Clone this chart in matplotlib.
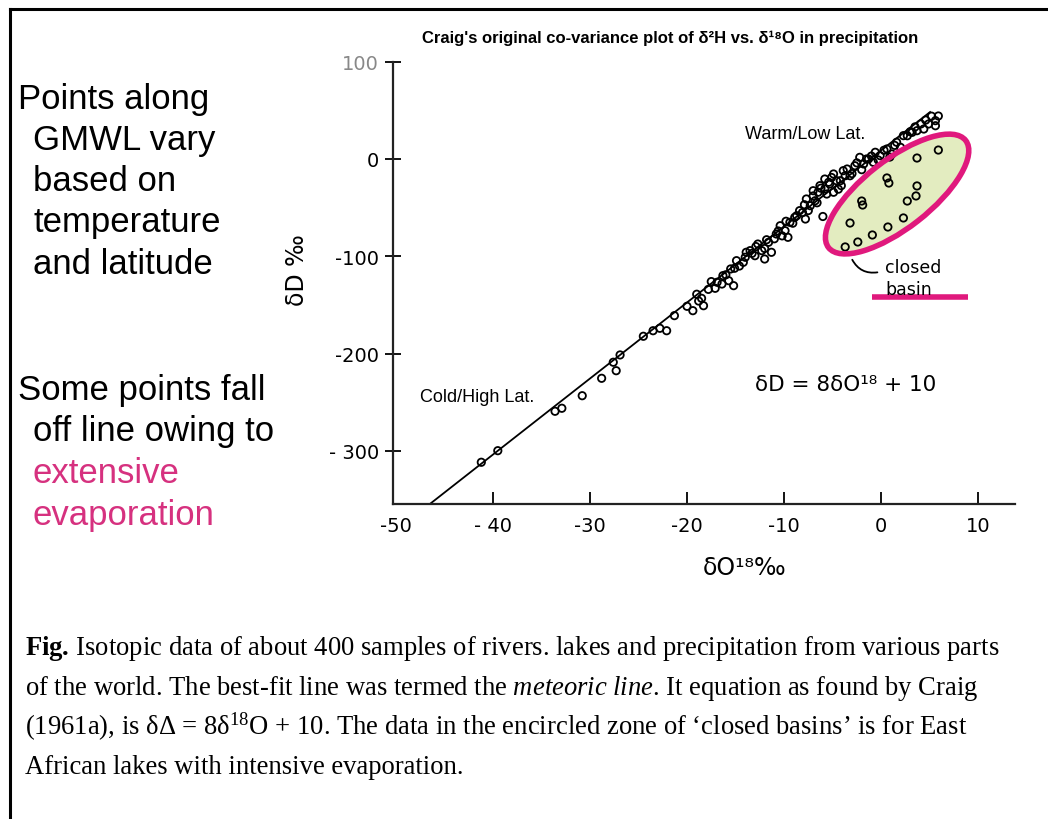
import matplotlib
matplotlib.use('Agg')
import matplotlib.pyplot as plt
from matplotlib.patches import Ellipse
from matplotlib.lines import Line2D
from matplotlib.transforms import IdentityTransform

plt.rcParams['mathtext.fontset'] = 'custom'
plt.rcParams['mathtext.rm'] = 'Liberation Serif'
plt.rcParams['mathtext.it'] = 'Liberation Serif:italic'
plt.rcParams['mathtext.bf'] = 'Liberation Serif:bold'

# samples along the meteoric line (d18O, dD)
meteoric_x = [-41.2, -39.5, -33.6, -32.9, -30.8, -28.8, -27.6, -26.9, -27.3, -24.5,
              -23.5, -22.8, -22.1, -21.3, -20.0, -19.4, -18.3, -18.5, -17.1, -16.4,
              -15.2, -15.7, -15.1, -14.2, -13.9,
              -16.9, -16.3, -14.9, -13.5, -13.0, -12.7, -12.3, -12.0, -11.6, -11.3,
              -10.8, -10.4, -9.9, -9.6, -9.4, -8.7, -8.4, -7.8, -7.7, -7.3,
              -6.8, -6.5, -5.8, -5.4, -4.9, -4.6, -4.1, -3.7,
              -7.0, -6.3, -5.8, -5.3, -4.9, -4.2, -3.5, -3.2, -2.7, -2.2,
              -1.8, -1.3, -0.6, -0.8, -0.1, 0.6, 1.1, 1.6, 2.0, 2.7,
              3.2, 3.7, 4.4, 4.9, 5.6, 5.6, 5.9, -6.0,
              -19.0, -18.8, -17.8, -17.5, -16.0, -15.5, -14.6, -14.0, -13.3, -12.9,
              -12.0, -11.8, -11.0, -10.6, -10.2, -9.8, -9.1, -8.9, -8.1, -7.9,
              -7.5, -7.0, -6.6, -6.2, -5.6, -5.1, -4.4, -3.9, -3.0, -2.5,
              -2.0, -1.5, -1.0, -0.3, 0.3, 0.9, 1.4, 2.3, 3.0, 3.5,
              4.1, 4.6, 5.2]
meteoric_y = [-311.7, -299.8, -259.3, -256.2, -243.3, -225.4, -208.9, -201.4, -217.6, -182.2,
              -176.5, -174.0, -176.5, -161.0, -151.4, -155.9, -150.8, -143.2, -132.9, -128.5,
              -130.2, -125.1, -112.3, -106.2, -95.9,
              -126.7, -119.9, -104.5, -94.2, -99.4, -87.4, -94.2, -102.8, -85.6, -95.9,
              -77.1, -68.6, -73.7, -80.5, -65.1, -58.3, -53.1, -61.7, -41.1, -48.0,
              -42.9, -34.2, -30.8, -23.9, -34.2, -22.3, -27.4, -17.2,
              -32.6, -27.4, -20.6, -25.7, -15.4, -22.3, -10.3, -17.2, -6.9, 1.7,
              -5.1, 0.0, 6.9, -3.4, 3.4, 10.3, 5.1, 17.2, 12.0, 23.9,
              27.4, 29.1, 30.8, 36.0, 39.4, 34.2, 44.2, -59.1,
              -139, -146, -134, -126, -119, -113, -110, -101, -97, -90,
              -92, -83, -82, -74, -79, -64, -66, -60, -55, -47,
              -53, -38, -45, -30, -36, -19, -31, -12, -15, -4,
              -11, 0, 3, -1, 9, 2, 14, 24, 28, 33,
              36, 40, 44]

# East African closed basin lakes
basin_x = [5.9, 3.7, 0.6, 0.8, 3.7, 3.6, 2.7, -1.9, -2.0, -3.2, -3.7, -2.4, -0.9, 0.7, 2.3]
basin_y = [9.2, 1.0, -19.5, -24.7, -27.7, -38.0, -43.2, -47.3, -43.2, -65.8, -90.4, -85.3, -78.1, -69.9, -60.6]

# drawn meteoric line end points
line_x = [-46.5, 5.05]
line_y = [-354.6, 48.3]

xticks = [-50, -40, -30, -20, -10, 0, 10]
xtick_labels = ['-50', '- 40', '-30', '-20', '-10', '0', '10']
yticks = [100, 0, -100, -200, -300]
ytick_labels = ['100', '0', '-100', '-200', '- 300']

MAG = '#e0197d'
PINK = '#d6317f'

W, H = 1048, 820
fig = plt.figure(figsize=(W / 100, H / 100), dpi=100)

ax = fig.add_axes([393 / W, 1 - 505 / H, (1015 - 393) / W, (505 - 62.7) / H])
ax.set_xlim(-50.3, 13.8)
ax.set_ylim(-354.6, 100)
for s in ['top', 'right']:
    ax.spines[s].set_visible(False)
for s in ['left', 'bottom']:
    ax.spines[s].set_linewidth(1.6)
    ax.spines[s].set_color('#222222')

ax.set_xticks(xticks)
ax.set_xticklabels(xtick_labels)
ax.set_yticks(yticks)
ax.set_yticklabels(ytick_labels)
ax.tick_params(axis='x', direction='in', length=9, width=1.3, pad=9, labelsize=14)
ax.tick_params(axis='y', direction='inout', length=12, width=1.3, pad=4, labelsize=14)
ax.xaxis.get_major_ticks()[0].tick1line.set_visible(False)
ax.get_yticklabels()[0].set_color('#888888')

# closed basin ellipse (fill under points, outline above)
cx, cy = ax.transData.transform((1.65, -36.0))
ax.add_patch(Ellipse((cx, cy), 174, 68, angle=38, transform=IdentityTransform(),
                     facecolor='#e3ecc0', edgecolor='none', zorder=1))

ax.plot(line_x, line_y, color='black', lw=1.3, zorder=2)
ax.scatter(meteoric_x, meteoric_y, s=28, facecolors='none', edgecolors='black',
           linewidths=1.3, zorder=3)
ax.scatter(basin_x, basin_y, s=28, facecolors='none', edgecolors='black',
           linewidths=1.3, zorder=3)

ax.add_patch(Ellipse((cx, cy), 174, 68, angle=38, transform=IdentityTransform(),
                     facecolor='none', edgecolor=MAG, lw=4, zorder=4))

ax.text(-14.0, 25.7, 'Warm/Low Lat.', fontsize=13, family='Liberation Sans', va='center')
ax.text(-47.5, -244.6, 'Cold/High Lat.', fontsize=13, family='Liberation Sans', va='center')
ax.text(-13.0, -231.2, 'δD = 8δO¹⁸ + 10', fontsize=15.5, va='center')

ax.annotate('', xy=(-0.1, -116), xytext=(-3.1, -101),
            arrowprops=dict(arrowstyle='-', connectionstyle='arc3,rad=0.4', lw=1.3))
ax.text(0.4, -111, 'closed', fontsize=12.5, va='center')
ax.text(0.4, -133.6, 'basin', fontsize=12.5, va='center')
ax.plot([-0.93, 8.97], [-141.8, -141.8], color=MAG, lw=4, clip_on=False, solid_capstyle='butt')

fig.text(670 / W, 1 - 38 / H, "Craig's original co-variance plot of δ²H vs. δ¹⁸O in precipitation",
         ha='center', va='center', fontsize=12, fontweight='bold', family='Liberation Sans')
fig.text(297 / W, 1 - 270 / H, 'δD ‰', rotation=90, ha='center', va='center', fontsize=17)
fig.text(745 / W, 1 - 568 / H, 'δO¹⁸‰', ha='center', va='center', fontsize=17)

# side notes
notes = [('Points along', 18, 109, 'black'), ('GMWL vary', 33, 150, 'black'),
         ('based on', 33, 191, 'black'), ('temperature', 33, 232, 'black'),
         ('and latitude', 33, 274, 'black'), ('Some points fall', 18, 400, 'black'),
         ('off line owing to', 33, 441.5, 'black'), ('extensive', 33, 483, PINK),
         ('evaporation', 33, 524.5, PINK)]
for txt, px, py, col in notes:
    fig.text(px / W, 1 - py / H, txt, fontsize=25, family='Liberation Sans',
             color=col, va='baseline')

caption = [r'$\mathbf{Fig.}\,$Isotopic data of about 400 samples of rivers. lakes and precipitation from various parts',
           r'of the world. The best-fit line was termed the $\mathit{meteoric\ line}$. It equation as found by Craig',
           r'(1961a), is δΔ = 8δ$^{18}$O + 10. The data in the encircled zone of ‘closed basins’ is for East',
           'African lakes with intensive evaporation.']
for i, line in enumerate(caption):
    fig.text(25 / W, 1 - (655 + 39.7 * i) / H, line, fontsize=19.2,
             family=['Liberation Serif', 'DejaVu Serif'], va='baseline')

# page frame
fig.add_artist(Line2D([10 / W, 10 / W], [0, 1 - 10 / H], transform=fig.transFigure,
                      color='black', lw=2.2))
fig.add_artist(Line2D([10 / W, 1], [1 - 10 / H, 1 - 10 / H], transform=fig.transFigure,
                      color='black', lw=2.2))

fig.savefig('out.png', dpi=100)
